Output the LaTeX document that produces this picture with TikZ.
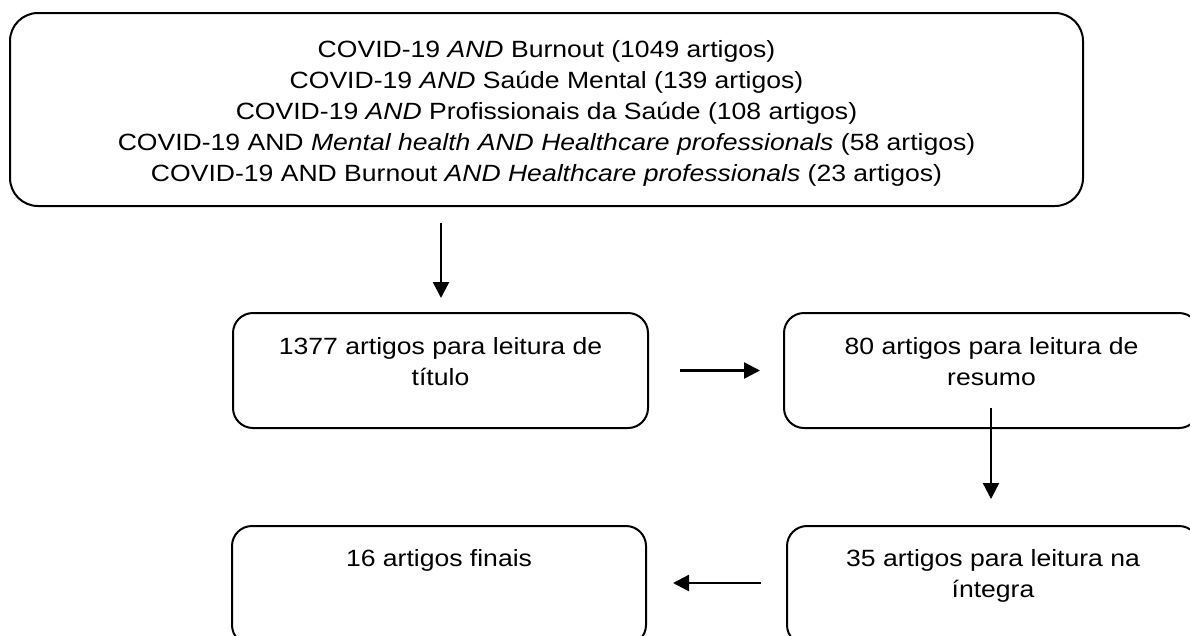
\documentclass[tikz,border=0pt]{standalone}
\usepackage{fontspec}
\setmainfont{Liberation Sans}[FakeStretch=1.13]
\usetikzlibrary{arrows.meta}
\begin{document}
\begin{tikzpicture}[x=1pt,y=-1pt,
  box/.style={draw=black, line width=2pt, rounded corners=20pt, inner sep=0pt},
  bigbox/.style={box, rounded corners=28pt},
  txt/.style={font=\fontsize{23.5}{31}\selectfont, align=center, anchor=north, inner sep=0pt},
  arr/.style={line width=2.4pt, -{Triangle[length=16pt,width=16pt]}}]
\useasboundingbox (0,0) rectangle (1190,635);
\node[bigbox, minimum width=1073pt, minimum height=193pt] (top) at (546.5,109.5) {};
\node[box, minimum width=415pt, minimum height=115pt] (b1377) at (440.5,370.5) {};
\node[box, minimum width=415pt, minimum height=115pt] (b80) at (991.5,370.5) {};
\node[box, minimum width=412pt, minimum height=119pt] (b35) at (993,585.5) {};
\node[box, minimum width=414pt, minimum height=119pt] (b16) at (439,585.5) {};
\node[txt] (ttop) at ([yshift=-28pt]top.north) {COVID-19 \textit{AND} Burnout (1049 artigos)\\
COVID-19 \textit{AND} Saúde Mental (139 artigos)\\
COVID-19 \textit{AND} Profissionais da Saúde (108 artigos)\\
COVID-19 AND \textit{Mental health AND Healthcare professionals} (58 artigos)\\
COVID-19 AND Burnout \textit{AND Healthcare professionals} (23 artigos)};
\node[txt] (t1377) at ([yshift=-25pt]b1377.north) {1377 artigos para leitura de\\título};
\node[txt] (t80) at ([yshift=-25pt]b80.north) {80 artigos para leitura de\\resumo};
\node[txt] (t35) at ([yshift=-24pt]b35.north) {35 artigos para leitura na\\íntegra};
\node[txt] (t16) at ([yshift=-24pt]b16.north) {16 artigos finais};
\draw[arr, shorten <=16pt, shorten >=14pt] (top.south -| 441,0) -- (b1377.north -| 441,0);
\draw[arr, shorten <=31pt, shorten >=23pt] (b1377.east) -- (b80.west);
\draw[arr, shorten <=-21pt, shorten >=26pt] (b80.south -| 991,0) -- (b35.north -| 991,0);
\draw[arr, shorten <=25pt, shorten >=26pt] (b35.west |- 0,583) -- (b16.east |- 0,583);
\end{tikzpicture}
\end{document}
